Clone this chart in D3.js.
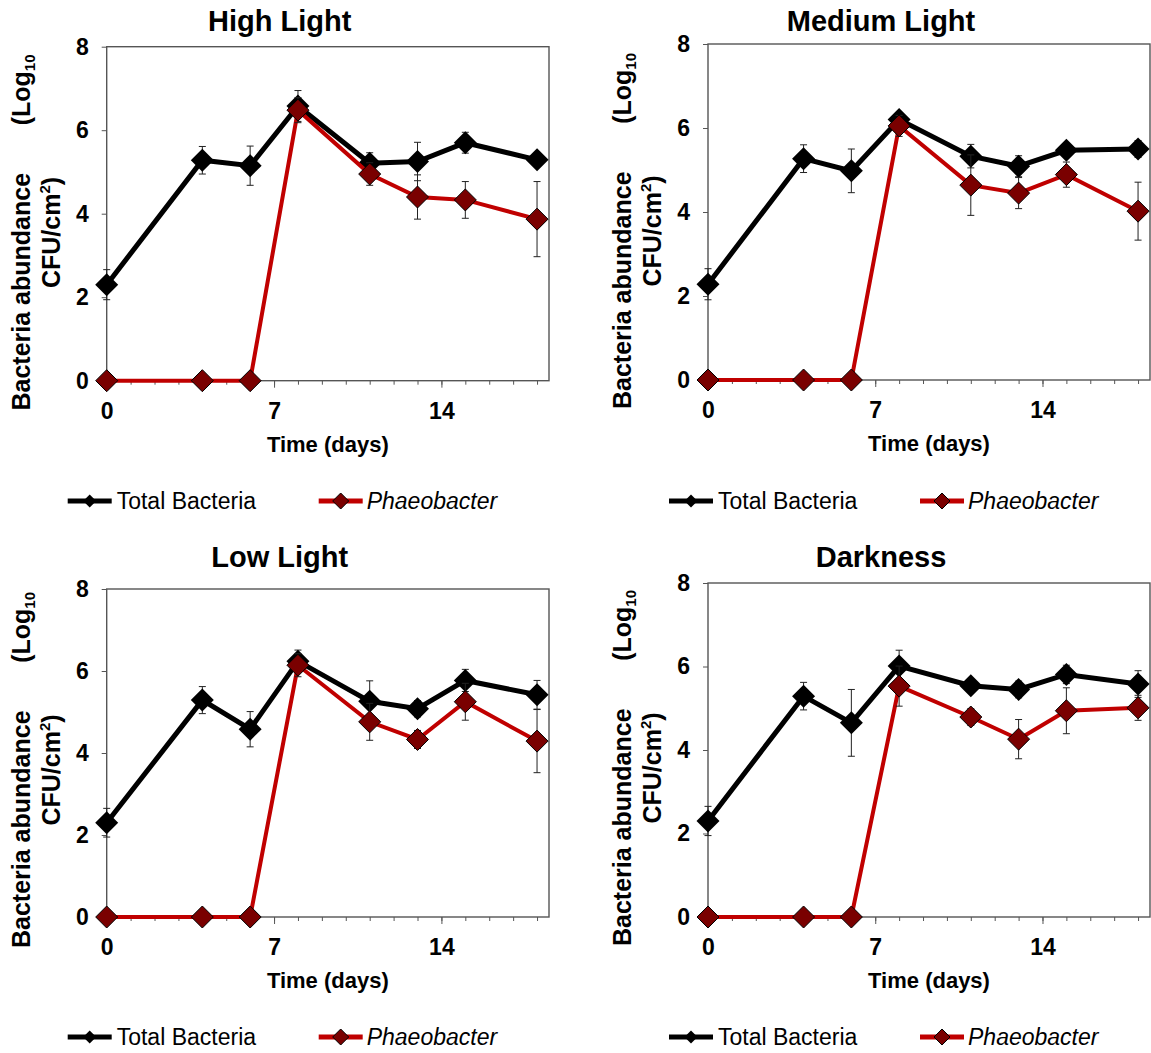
<!DOCTYPE html>
<html>
<head>
<meta charset="utf-8">
<script src="https://cdn.jsdelivr.net/npm/d3@7"></script>
<style>
  body { margin: 0; background: #fff; }
  text { font-family: "Liberation Sans", Arial, sans-serif; }
</style>
</head>
<body>
<svg id="chart" width="1151" height="1053"></svg>
<script>
// sampling days and axis ticks
const days = [0, 4, 6, 8, 11, 13, 15, 18];
const xTicks = [0, 7, 14];
const yTicks = [0, 2, 4, 6, 8];
const titles = ["High Light", "Medium Light", "Low Light", "Darkness"];
const seriesNames = ["Total Bacteria", "Phaeobacter"];

// log10 CFU/cm2
const highTotal    = [2.30, 5.28, 5.15, 6.58, 5.21, 5.25, 5.70, 5.29];
const highTotalErr = [0.36, 0.33, 0.47, 0.37, 0.25, 0.46, 0.25, 0.10];
const highPhaeo    = [0, 0, 0, 6.48, 4.95, 4.40, 4.33, 3.87];
const highPhaeoErr = [0, 0, 0, 0.30, 0.27, 0.53, 0.44, 0.90];

const medTotal    = [2.28, 5.27, 4.98, 6.20, 5.33, 5.09, 5.47, 5.50];
const medTotalErr = [0.37, 0.33, 0.52, 0.12, 0.28, 0.25, 0.15, 0.20];
const medPhaeo    = [0, 0, 0, 6.05, 4.64, 4.45, 4.89, 4.02];
const medPhaeoErr = [0, 0, 0, 0.25, 0.72, 0.37, 0.30, 0.69];

const lowTotal    = [2.30, 5.29, 4.58, 6.24, 5.26, 5.08, 5.77, 5.42];
const lowTotalErr = [0.35, 0.33, 0.43, 0.27, 0.50, 0.20, 0.27, 0.35];
const lowPhaeo    = [0, 0, 0, 6.14, 4.76, 4.33, 5.25, 4.29];
const lowPhaeoErr = [0, 0, 0, 0.28, 0.45, 0.22, 0.45, 0.77];

const darkTotal    = [2.30, 5.29, 4.65, 6.01, 5.54, 5.45, 5.81, 5.58];
const darkTotalErr = [0.35, 0.33, 0.80, 0.38, 0.10, 0.20, 0.22, 0.32];
const darkPhaeo    = [0, 0, 0, 5.53, 4.79, 4.26, 4.94, 5.01];
const darkPhaeoErr = [0, 0, 0, 0.48, 0.20, 0.47, 0.55, 0.30];

const panelData = [
  { title: titles[0], total: highTotal, totalErr: highTotalErr, phaeo: highPhaeo, phaeoErr: highPhaeoErr },
  { title: titles[1], total: medTotal, totalErr: medTotalErr, phaeo: medPhaeo, phaeoErr: medPhaeoErr },
  { title: titles[2], total: lowTotal, totalErr: lowTotalErr, phaeo: lowPhaeo, phaeoErr: lowPhaeoErr },
  { title: titles[3], total: darkTotal, totalErr: darkTotalErr, phaeo: darkPhaeo, phaeoErr: darkPhaeoErr }
];

// plot boxes (layout only)
const layout = [
  { l: 106.7, r: 549, t: 46.7, b: 380.7, titleY: 31,  yMid: 232.5, legendY: 501 },
  { l: 708,   r: 1150, t: 44,  b: 380,   titleY: 31,  yMid: 231,   legendY: 501 },
  { l: 106.7, r: 549, t: 589, b: 917,    titleY: 567, yMid: 770,   legendY: 1037 },
  { l: 708,   r: 1150, t: 583, b: 917,   titleY: 567, yMid: 768,   legendY: 1037 }
];

const BLACK = "#000", RED = "#c00000", DARKRED = "#7a0000", AXIS = "#555";
const svg = d3.select("#chart");

const diamond = (half) => `M0,${-half}L${half},0L0,${half}L${-half},0Z`;

function drawPanel(p, lay) {
  const x = d3.scaleLinear().domain([0, 18.5]).range([lay.l, lay.r]);
  const y = d3.scaleLinear().domain([0, 8]).range([lay.b, lay.t]);
  const g = svg.append("g");

  // minor day ticks
  const minor = g.append("g").attr("transform", `translate(0,${lay.b})`)
    .call(d3.axisBottom(x).tickValues(d3.range(1, 19)).tickSize(4).tickFormat(""));
  minor.select(".domain").remove();
  minor.selectAll("line").attr("stroke", AXIS);

  const xa = g.append("g").attr("transform", `translate(0,${lay.b})`)
    .call(d3.axisBottom(x).tickValues(xTicks).tickSize(7).tickPadding(15));
  xa.select(".domain").remove();
  xa.selectAll("line").attr("stroke", AXIS);
  xa.selectAll("text").attr("font-size", 23).attr("font-weight", "bold")
    .attr("fill", "#000").style("font-family", '"Liberation Sans", Arial, sans-serif');

  const ya = g.append("g").attr("transform", `translate(${lay.l},0)`)
    .call(d3.axisLeft(y).tickValues(yTicks).tickSize(5).tickPadding(13));
  ya.select(".domain").remove();
  ya.selectAll("line").attr("stroke", AXIS);
  ya.selectAll("text").attr("font-size", 23).attr("font-weight", "bold")
    .attr("fill", "#000").style("font-family", '"Liberation Sans", Arial, sans-serif');

  g.append("rect")
    .attr("x", lay.l).attr("y", lay.t)
    .attr("width", lay.r - lay.l).attr("height", lay.b - lay.t)
    .attr("fill", "none").attr("stroke", AXIS).attr("stroke-width", 1.4);

  // title
  g.append("text").attr("x", lay.l + 173).attr("y", lay.titleY)
    .attr("text-anchor", "middle").attr("font-size", 29).attr("font-weight", "bold")
    .text(p.title);

  // x title
  g.append("text").attr("x", (lay.l + lay.r) / 2).attr("y", lay.b + 71)
    .attr("text-anchor", "middle").attr("font-size", 22).attr("font-weight", "bold")
    .text("Time (days)");

  // y title (two lines, rotated)
  const yt = g.append("g").attr("transform", `translate(${lay.l - 77},0) rotate(-90)`);
  yt.append("text").attr("x", -(lay.yMid + 178)).attr("y", 0)
    .attr("font-size", 25).attr("font-weight", "bold").text("Bacteria abundance");
  const lg = yt.append("text").attr("x", -(lay.yMid - 178)).attr("y", 0)
    .attr("text-anchor", "end").attr("font-size", 25).attr("font-weight", "bold");
  lg.append("tspan").text("(Log");
  lg.append("tspan").attr("font-size", 15).attr("dy", 5).text("10");
  const l2 = svg.append("text")
    .attr("transform", `translate(${lay.l - 47},${lay.yMid}) rotate(-90)`)
    .attr("text-anchor", "middle").attr("font-size", 25).attr("font-weight", "bold");
  l2.append("tspan").text("CFU/cm");
  l2.append("tspan").attr("font-size", 15).attr("dy", -10).text("2");
  l2.append("tspan").attr("dy", 10).text(")");

  const rows = days.map((d, i) => ({ d, tot: p.total[i], te: p.totalErr[i], ph: p.phaeo[i], pe: p.phaeoErr[i] }));

  function errBars(key, errKey) {
    const eb = g.append("g").attr("stroke", "#222").attr("stroke-width", 1);
    rows.filter(r => r[errKey] > 0).forEach(r => {
      const cx = x(r.d), y1 = y(r[key] + r[errKey]), y0 = y(r[key] - r[errKey]);
      eb.append("line").attr("x1", cx).attr("x2", cx).attr("y1", y1).attr("y2", y0);
      eb.append("line").attr("x1", cx - 3.5).attr("x2", cx + 3.5).attr("y1", y1).attr("y2", y1);
      eb.append("line").attr("x1", cx - 3.5).attr("x2", cx + 3.5).attr("y1", y0).attr("y2", y0);
    });
  }

  // total bacteria
  g.append("path").datum(rows)
    .attr("fill", "none").attr("stroke", BLACK).attr("stroke-width", 5)
    .attr("stroke-linejoin", "miter")
    .attr("d", d3.line().x(r => x(r.d)).y(r => y(r.tot)));
  errBars("tot", "te");
  g.selectAll(".mt").data(rows).join("path").attr("class", "mt")
    .attr("transform", r => `translate(${x(r.d)},${y(r.tot)})`)
    .attr("d", diamond(11.5)).attr("fill", BLACK);

  // phaeobacter
  g.append("path").datum(rows)
    .attr("fill", "none").attr("stroke", RED).attr("stroke-width", 4)
    .attr("d", d3.line().x(r => x(r.d)).y(r => y(r.ph)));
  errBars("ph", "pe");
  g.selectAll(".mp").data(rows).join("path").attr("class", "mp")
    .attr("transform", r => `translate(${x(r.d)},${y(r.ph)})`)
    .attr("d", diamond(11)).attr("fill", DARKRED).attr("stroke", "#000").attr("stroke-width", 1);

  // legend
  const ly = lay.legendY;
  g.append("line").attr("x1", lay.l - 39).attr("x2", lay.l + 5).attr("y1", ly).attr("y2", ly)
    .attr("stroke", BLACK).attr("stroke-width", 5);
  g.append("path").attr("transform", `translate(${lay.l - 17},${ly})`).attr("d", diamond(6.5)).attr("fill", BLACK);
  g.append("text").attr("x", lay.l + 10).attr("y", ly + 8).attr("font-size", 23).text(seriesNames[0]);

  g.append("line").attr("x1", lay.l + 212).attr("x2", lay.l + 256).attr("y1", ly).attr("y2", ly)
    .attr("stroke", RED).attr("stroke-width", 5);
  g.append("path").attr("transform", `translate(${lay.l + 234},${ly})`).attr("d", diamond(8))
    .attr("fill", DARKRED).attr("stroke", "#000").attr("stroke-width", 1);
  g.append("text").attr("x", lay.l + 260).attr("y", ly + 8).attr("font-size", 23)
    .attr("font-style", "italic").text(seriesNames[1]);
}

panelData.forEach((p, i) => drawPanel(p, layout[i]));
</script>
</body>
</html>
